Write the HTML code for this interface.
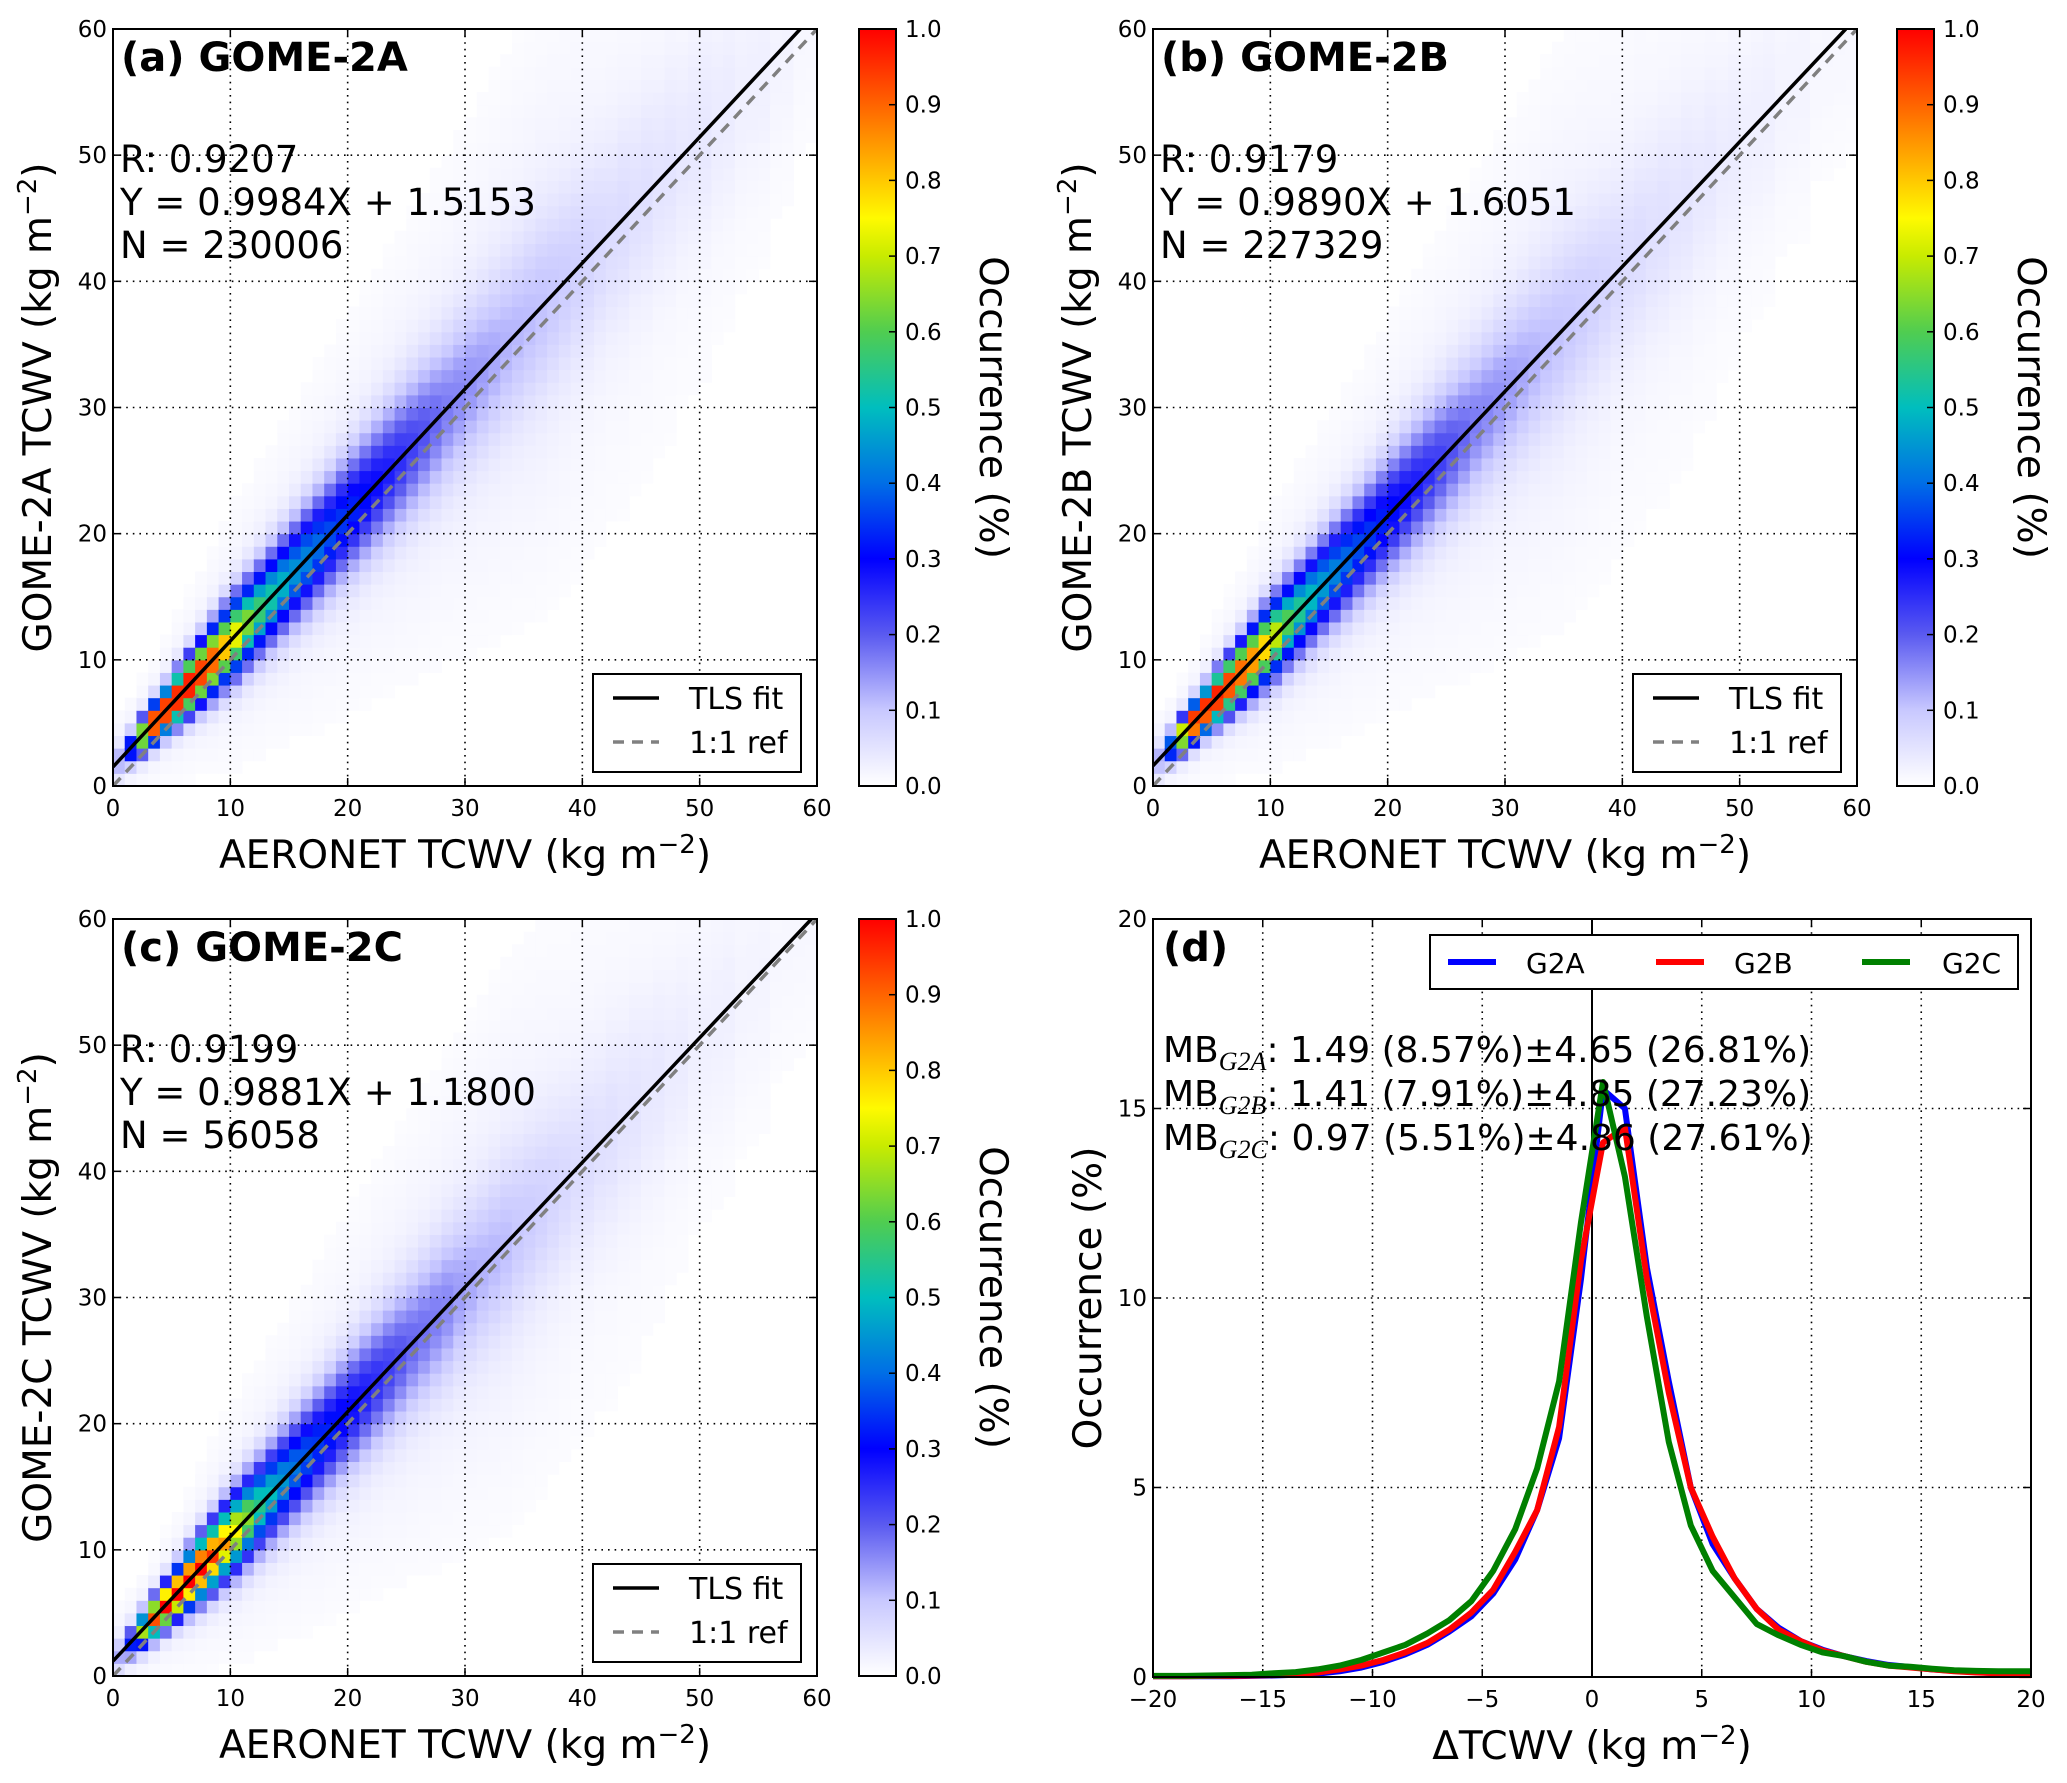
<!DOCTYPE html>
<html><head><meta charset="utf-8">
<style>
html,body{margin:0;padding:0;background:#fff;}
svg{display:block;font-family:"DejaVu Sans","Liberation Sans",sans-serif;}
</style></head>
<body>
<svg id="fig" width="2067" height="1783" viewBox="0 0 2067 1783" xmlns="http://www.w3.org/2000/svg"></svg>
<script>
// ---------- data ----------
const scatterTicks = [0,10,20,30,40,50,60];
const cbTicks = ["0.0","0.1","0.2","0.3","0.4","0.5","0.6","0.7","0.8","0.9","1.0"];
const panelNames = ["GOME-2A","GOME-2B","GOME-2C"];
const panelLetters = ["(a)","(b)","(c)"];
const rValues = ["0.9207","0.9179","0.9199"];
const slopes = [0.9984,0.9890,0.9881];
const intercepts = [1.5153,1.6051,1.1800];
const nValues = ["230006","227329","56058"];
const peaksA = [0.1,0.35,0.7,1.0,1.0,1.0,1.0,0.95,0.9,0.8,0.72,0.62,0.55,0.5,0.46,0.42,0.4,0.37,0.34,0.32,0.3,0.28,0.26,0.24,0.22,0.2,0.18,0.16,0.14,0.13,0.12,0.11,0.1,0.09,0.085,0.08,0.075,0.07,0.065,0.06,0.055,0.05,0.045,0.045,0.04,0.04,0.035,0.035,0.03,0.03,0.03,0.025,0.025,0.02,0.02,0.02,0.015,0.015,0.01,0.01];
const peaksB = [0.1,0.4,0.75,1.0,1.0,1.0,0.95,0.9,0.85,0.78,0.68,0.58,0.52,0.47,0.43,0.4,0.37,0.34,0.32,0.3,0.28,0.26,0.24,0.22,0.2,0.18,0.16,0.14,0.13,0.12,0.11,0.1,0.09,0.08,0.075,0.07,0.065,0.06,0.055,0.05,0.045,0.045,0.04,0.04,0.035,0.035,0.03,0.03,0.025,0.025,0.02,0.02,0.02,0.015,0.015,0.015,0.01,0.01,0.01,0.01];
const peaksC = [0.1,0.3,0.65,0.9,1.0,1.0,1.0,1.0,0.92,0.82,0.72,0.62,0.52,0.47,0.42,0.38,0.35,0.32,0.3,0.28,0.26,0.24,0.22,0.2,0.18,0.16,0.15,0.14,0.13,0.11,0.1,0.09,0.085,0.08,0.07,0.065,0.06,0.055,0.05,0.045,0.045,0.04,0.04,0.035,0.035,0.03,0.03,0.025,0.025,0.02,0.02,0.02,0.02,0.015,0.015,0.015,0.01,0.01,0.01,0.01];
const spreads = [0.8,0.8,0.9,1.0,1.1,1.25,1.4,1.55,1.7,1.85,2.0,2.1,2.2,2.3,2.4,2.5,2.6,2.7,2.8,2.9,3.0,3.1,3.2,3.3,3.4,3.5,3.6,3.7,3.8,3.9,4.0,4.1,4.2,4.3,4.4,4.5,4.6,4.7,4.8,4.9,5.0,5.1,5.2,5.3,5.4,5.5,5.5,5.6,5.6,5.7,5.7,5.8,5.8,5.9,5.9,6.0,6.0,6.1,6.1,6.2];
const histX = [-19.5,-18.5,-17.5,-16.5,-15.5,-14.5,-13.5,-12.5,-11.5,-10.5,-9.5,-8.5,-7.5,-6.5,-5.5,-4.5,-3.5,-2.5,-1.5,-0.5,0.5,1.5,2.5,3.5,4.5,5.5,6.5,7.5,8.5,9.5,10.5,11.5,12.5,13.5,14.5,15.5,16.5,17.5,18.5,19.5];
const histG2A = [0.02,0.02,0.02,0.02,0.03,0.04,0.06,0.09,0.15,0.25,0.4,0.6,0.85,1.2,1.6,2.2,3.1,4.4,6.3,10.5,15.5,15.0,10.8,7.8,5.0,3.5,2.6,1.8,1.3,0.95,0.72,0.55,0.42,0.32,0.26,0.2,0.16,0.13,0.1,0.07];
const histG2B = [0.02,0.02,0.03,0.03,0.04,0.05,0.08,0.12,0.2,0.3,0.45,0.65,0.9,1.25,1.7,2.3,3.3,4.4,6.6,11.0,14.1,14.5,10.5,7.5,5.0,3.7,2.6,1.8,1.25,0.95,0.7,0.55,0.4,0.3,0.25,0.2,0.15,0.12,0.1,0.05];
const histG2C = [0.03,0.03,0.04,0.05,0.06,0.1,0.13,0.2,0.3,0.45,0.65,0.85,1.15,1.5,2.0,2.8,3.9,5.5,7.8,12.0,15.7,13.2,9.5,6.2,4.0,2.8,2.1,1.4,1.1,0.85,0.65,0.55,0.4,0.3,0.27,0.22,0.18,0.16,0.15,0.15];
const dXTicks = [-20,-15,-10,-5,0,5,10,15,20];
const dXTickLabels = ["\u221220","\u221215","\u221210","\u22125","0","5","10","15","20"];
const dYTicks = [0,5,10,15,20];
const seriesNames = ["G2A","G2B","G2C"];
const mbLabels = ["G2A","G2B","G2C"];
const mbTexts = [": 1.49 (8.57%)\u00b14.65 (26.81%)",": 1.41 (7.91%)\u00b14.85 (27.23%)",": 0.97 (5.51%)\u00b14.86 (27.61%)"];

// ---------- helpers ----------
const NS="http://www.w3.org/2000/svg";
const svg=document.getElementById('fig');
function mk(tag,attrs,parent,text){const e=document.createElementNS(NS,tag);for(const k in attrs)e.setAttribute(k,attrs[k]);if(text!==undefined)e.textContent=text;(parent||svg).appendChild(e);return e;}
const cstops=[[0,[255,255,255]],[0.1,[200,200,255]],[0.2,[90,90,240]],[0.3,[0,0,255]],[0.4,[0,110,230]],[0.5,[0,190,190]],[0.6,[80,205,80]],[0.7,[200,235,0]],[0.75,[255,250,0]],[0.8,[255,200,0]],[0.9,[255,100,0]],[1.0,[255,0,0]]];
function cmap(v){v=Math.max(0,Math.min(1,v));for(let i=1;i<cstops.length;i++){if(v<=cstops[i][0]){const a=cstops[i-1],b=cstops[i];const t=(v-a[0])/(b[0]-a[0]);const c=a[1].map((x,j)=>Math.round(x+(b[1][j]-x)*t));return `rgb(${c[0]},${c[1]},${c[2]})`;}}return 'rgb(255,0,0)';}

function scatterPanel(i,ox,oy,cbx,peaks){
  const L=ox,R=ox+704,T=oy,B=oy+757;
  const sx=v=>L+(v/60)*(R-L), sy=v=>B-(v/60)*(B-T);
  const g=mk('g',{},svg);
  
  
  const hm=mk('g',{},g);
  
  
  const cw=(R-L)/60, ch=(B-T)/60;
  for(let xb=0;xb<60;xb++){
    const c=slopes[i]*(xb+0.5)+intercepts[i]-0.5;
    const s=spreads[xb], p=peaks[xb];
    for(let yb=0;yb<60;yb++){
      const d=yb-c;
      let v=p*Math.exp(-d*d/(2*s*s))+Math.min(0.03,p*0.4)*Math.exp(-d*d/(2*(3*s)*(3*s)));
      if(v<0.006) continue;
      const r=mk('rect',{x:sx(xb).toFixed(2),y:sy(yb+1).toFixed(2),width:(cw+0.5).toFixed(2),height:(ch+0.5).toFixed(2),fill:cmap(v)},hm);
      
      
    }
  }
  scatterTicks.forEach(t=>{
    if(t>0&&t<60){
      mk('line',{x1:sx(t),x2:sx(t),y1:T,y2:B,stroke:'#000','stroke-width':1.6,'stroke-dasharray':'1.6,5'},g);
      mk('line',{x1:L,x2:R,y1:sy(t),y2:sy(t),stroke:'#000','stroke-width':1.6,'stroke-dasharray':'1.6,5'},g);
    }
    mk('line',{x1:sx(t),x2:sx(t),y1:B,y2:B-8,stroke:'#000','stroke-width':1.5},g);
    mk('line',{x1:sx(t),x2:sx(t),y1:T,y2:T+8,stroke:'#000','stroke-width':1.5},g);
    mk('line',{x1:L,x2:L+8,y1:sy(t),y2:sy(t),stroke:'#000','stroke-width':1.5},g);
    mk('line',{x1:R,x2:R-8,y1:sy(t),y2:sy(t),stroke:'#000','stroke-width':1.5},g);
    const xl=mk('text',{x:sx(t),y:B+30,'font-size':23,'text-anchor':'middle'},g,String(t));
    
    
    const yl=mk('text',{x:L-6,y:sy(t)+8,'font-size':23,'text-anchor':'end'},g,String(t));
    
    
  });
  const cid='clip'+i;
  const cp=mk('clipPath',{id:cid},g);mk('rect',{x:L,y:T,width:R-L,height:B-T},cp);
  const ref=mk('line',{x1:sx(0),y1:sy(0),x2:sx(60),y2:sy(60),stroke:'#808080','stroke-width':3.5,'stroke-dasharray':'11,8','clip-path':`url(#${cid})`},g);
  
  
  const xEnd=Math.min(60,(60-intercepts[i])/slopes[i]);
  const fit=mk('line',{x1:sx(0),y1:sy(intercepts[i]),x2:sx(xEnd),y2:sy(slopes[i]*xEnd+intercepts[i]),stroke:'#000','stroke-width':3.5,'clip-path':`url(#${cid})`},g);
  
  
  mk('rect',{x:L,y:T,width:R-L,height:B-T,fill:'none',stroke:'#000','stroke-width':2},g);
  const tt=mk('text',{x:L+8,y:T+42,'font-size':40,'font-weight':'bold'},g,panelLetters[i]+' '+panelNames[i]);
  
  
  const st=[ 'R: '+rValues[i], 'Y = '+slopes[i].toFixed(4)+'X + '+intercepts[i].toFixed(4), 'N = '+nValues[i]];
  st.forEach((s,k)=>{const e=mk('text',{x:L+7,y:T+143+k*43,'font-size':37},g,s);
    
    });
  const lg=mk('g',{},g);
  
  
  mk('rect',{x:L+480,y:T+645,width:208,height:98,fill:'#fff',stroke:'#000','stroke-width':2},lg);
  mk('line',{x1:L+500,x2:L+546,y1:T+669,y2:T+669,stroke:'#000','stroke-width':3.5},lg);
  mk('text',{x:L+576,y:T+680,'font-size':30},lg,'TLS fit');
  mk('line',{x1:L+500,x2:L+546,y1:T+713,y2:T+713,stroke:'#808080','stroke-width':3.5,'stroke-dasharray':'11,8'},lg);
  mk('text',{x:L+576,y:T+724,'font-size':30},lg,'1:1 ref');
  const xa=mk('text',{x:(L+R)/2,y:B+82,'font-size':39,'text-anchor':'middle'},g);
  
  
  xa.innerHTML='AERONET TCWV (kg m<tspan dy="-15" font-size="26">\u22122</tspan><tspan dy="15">)</tspan>';
  const ya=mk('text',{x:0,y:0,'font-size':39,'text-anchor':'middle',transform:`translate(${L-62},${(T+B)/2}) rotate(-90)`},g);
  
  
  ya.innerHTML=panelNames[i]+' TCWV (kg m<tspan dy="-15" font-size="26">\u22122</tspan><tspan dy="15">)</tspan>';
  const cb=mk('g',{},g);
  
  
  const gid='grad'+i;
  const lgd=mk('linearGradient',{id:gid,x1:0,y1:1,x2:0,y2:0},cb);
  cstops.forEach(s=>mk('stop',{offset:s[0],'stop-color':`rgb(${s[1].join(',')})`},lgd));
  mk('rect',{x:cbx,y:T,width:37,height:B-T,fill:`url(#${gid})`,stroke:'#000','stroke-width':2},cb);
  cbTicks.forEach((t,k)=>{const y=B-(k/10)*(B-T);
    mk('line',{x1:cbx+37,x2:cbx+30,y1:y,y2:y,stroke:'#000','stroke-width':1.5},cb);
    mk('text',{x:cbx+46,y:y+8,'font-size':23},cb,t);});
  const cl=mk('text',{x:0,y:0,'font-size':39,'text-anchor':'middle',transform:`translate(${cbx+121},${(T+B)/2}) rotate(90)`},cb,'Occurrence (%)');
  
  
}
scatterPanel(0,113,29,859,peaksA);
scatterPanel(1,1153,29,1897,peaksB);
scatterPanel(2,113,919,859,peaksC);

// ---------- panel d ----------
(function(){
  const L=1153,R=2031,T=919,B=1677;
  const sx=v=>L+(v+20)/40*(R-L), sy=v=>B-v/20*(B-T);
  const g=mk('g',{},svg);
  
  
  dXTicks.forEach((t,k)=>{
    if(t>-20&&t<20&&t!==0) mk('line',{x1:sx(t),x2:sx(t),y1:T,y2:B,stroke:'#000','stroke-width':1.6,'stroke-dasharray':'1.6,5'},g);
    mk('line',{x1:sx(t),x2:sx(t),y1:B,y2:B-8,stroke:'#000','stroke-width':1.5},g);
    mk('line',{x1:sx(t),x2:sx(t),y1:T,y2:T+8,stroke:'#000','stroke-width':1.5},g);
    const e=mk('text',{x:sx(t),y:B+30,'font-size':23,'text-anchor':'middle'},g,dXTickLabels[k]);
    
    
  });
  dYTicks.forEach(t=>{
    if(t>0&&t<20) mk('line',{x1:L,x2:R,y1:sy(t),y2:sy(t),stroke:'#000','stroke-width':1.6,'stroke-dasharray':'1.6,5'},g);
    mk('line',{x1:L,x2:L+8,y1:sy(t),y2:sy(t),stroke:'#000','stroke-width':1.5},g);
    mk('line',{x1:R,x2:R-8,y1:sy(t),y2:sy(t),stroke:'#000','stroke-width':1.5},g);
    const e=mk('text',{x:L-6,y:sy(t)+8,'font-size':23,'text-anchor':'end'},g,String(t));
    
    
  });
  const zl=mk('line',{x1:sx(0),x2:sx(0),y1:T,y2:B,stroke:'#000','stroke-width':2},g);
  
  
  const cols=['#0000ff','#ff0000','#008000'];
  [histG2A,histG2B,histG2C].forEach((arr,k)=>{
    const pts=histX.map((x,j)=>sx(x).toFixed(1)+','+sy(arr[j]).toFixed(1));
    pts.unshift(sx(-20).toFixed(1)+','+sy(arr[0]).toFixed(1));
    pts.push(sx(20).toFixed(1)+','+sy(arr[arr.length-1]).toFixed(1));
    const pl=mk('polyline',{points:pts.join(' '),fill:'none',stroke:cols[k],'stroke-width':6,'stroke-linejoin':'round'},g);
    
    
  });
  mk('rect',{x:L,y:T,width:R-L,height:B-T,fill:'none',stroke:'#000','stroke-width':2},g);
  const tt=mk('text',{x:L+10,y:T+42,'font-size':40,'font-weight':'bold'},g,'(d)');
  
  
  mbTexts.forEach((s,k)=>{
    const e=mk('text',{x:L+10,y:T+143+k*44,'font-size':36},g);
    
    
    e.innerHTML='MB<tspan dy="8" font-size="26" font-family="Liberation Serif, serif" font-style="italic">'+mbLabels[k]+'</tspan><tspan dy="-8">'+s+'</tspan>';
  });
  const lg=mk('g',{},g);
  
  
  mk('rect',{x:1430,y:935,width:588,height:54,fill:'#fff',stroke:'#000','stroke-width':2},lg);
  const lx=[1448,1656,1862], tx=[1526,1734,1942];
  seriesNames.forEach((n,k)=>{
    mk('line',{x1:lx[k],x2:lx[k]+48,y1:962,y2:962,stroke:cols[k],'stroke-width':6},lg);
    mk('text',{x:tx[k],y:973,'font-size':28},lg,n);
  });
  const xa=mk('text',{x:(L+R)/2,y:B+82,'font-size':39,'text-anchor':'middle'},g);
  
  
  xa.innerHTML='\u0394TCWV (kg m<tspan dy="-15" font-size="26">\u22122</tspan><tspan dy="15">)</tspan>';
  const ya=mk('text',{x:0,y:0,'font-size':39,'text-anchor':'middle',transform:`translate(${L-52},${(T+B)/2}) rotate(-90)`},g,'Occurrence (%)');
  
  
})();
</script>
</body></html>
